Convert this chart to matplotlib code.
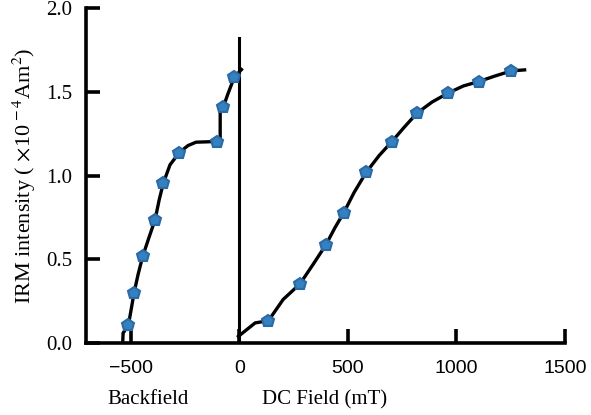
import matplotlib
matplotlib.use("Agg")
import matplotlib.pyplot as plt
import matplotlib.transforms as mtransforms

# ── Daten ─────────────────────────────────────────────────────────────────────
# Backfield-Ast: Messpunkte
back_x = [-511, -485, -445, -388, -350, -276, -102, -73, -23]
back_y = [0.105, 0.298, 0.517, 0.736, 0.955, 1.138, 1.204, 1.413, 1.588]

# Backfield-Ast: Verlauf der Kurve
back_curve_x = [-537, -535, -511, -498, -485, -466, -445, -416, -388, -369,
                -350, -319, -276, -236, -199, -102, -88, -88, -73, -52, -23, 10]
back_curve_y = [0.0, 0.06, 0.105, 0.20, 0.298, 0.41, 0.517, 0.63, 0.736, 0.855,
                0.955, 1.065, 1.138, 1.18, 1.20, 1.204, 1.204, 1.39, 1.413, 1.49,
                1.588, 1.634]

# DC-Feld-Ast: Messpunkte
dc_x = [134, 280, 399, 480, 584, 703, 818, 961, 1102, 1253]
dc_y = [0.133, 0.354, 0.587, 0.776, 1.019, 1.204, 1.373, 1.493, 1.562, 1.626]

# DC-Feld-Ast: Verlauf der Kurve
dc_curve_x = [-4, 73, 134, 202, 280, 340, 399, 441, 480, 529, 584, 644, 703,
              760, 818, 888, 961, 1032, 1102, 1179, 1253, 1314]
dc_curve_y = [0.04, 0.12, 0.133, 0.26, 0.354, 0.47, 0.587, 0.69, 0.776, 0.90,
              1.019, 1.12, 1.204, 1.29, 1.373, 1.44, 1.493, 1.536, 1.562, 1.596,
              1.626, 1.632]

x_ticks = [-500, 0, 500, 1000, 1500]
x_ticklabels = ["\u2212500", "0", "500", "1000", "1500"]
y_ticks = [0.0, 0.5, 1.0, 1.5, 2.0]
y_ticklabels = ["0.0", "0.5", "1.0", "1.5", "2.0"]
zero_line_top = 1.82

# ── Plot ──────────────────────────────────────────────────────────────────────
plt.rcParams["mathtext.fontset"] = "stix"
serif = ["Liberation Serif", "DejaVu Serif"]
sans = ["Liberation Sans", "DejaVu Sans"]

fig = plt.figure(figsize=(5.91, 4.15), dpi=100)
ax = fig.add_axes([0.1455, 0.1735, 0.8105, 0.8065])

ax.plot(back_curve_x, back_curve_y, color="black", lw=2.4, zorder=2)
ax.plot(dc_curve_x, dc_curve_y, color="black", lw=2.4, zorder=2)
ax.plot([0, 0], [0, zero_line_top], color="black", lw=2.2, zorder=2)

marker_kw = dict(ls="none", marker="p", ms=9, mfc="#3580bf", mec="#2a6aa6",
                 mew=1.5, zorder=3)
ax.plot(back_x, back_y, **marker_kw)
ax.plot(dc_x, dc_y, **marker_kw)

ax.set_xlim(-706, 1500)
ax.set_ylim(0, 2.0)
for side in ("top", "right"):
    ax.spines[side].set_visible(False)
for side in ("left", "bottom"):
    ax.spines[side].set_linewidth(2.6)

ax.set_xticks(x_ticks)
ax.set_xticklabels(x_ticklabels, family=sans, fontsize=14)
ax.set_yticks(y_ticks)
ax.set_yticklabels(y_ticklabels, family=serif, fontsize=15)
ax.tick_params(axis="both", direction="in", length=10, width=2.6)
ax.tick_params(axis="x", pad=12)
ax.tick_params(axis="y", pad=10)

ax.set_ylabel(r"IRM intensity ( $\times$10$^{\,-4}$Am$^{2}$)",
              family=serif, fontsize=16, labelpad=6)

trans = mtransforms.blended_transform_factory(ax.transData, ax.transAxes)
ax.text(-420, -0.17, "Backfield", transform=trans, ha="center", va="center",
        family=serif, fontsize=15)
ax.text(391, -0.17, "DC Field (mT)", transform=trans, ha="center", va="center",
        family=serif, fontsize=15)

fig.savefig("out.png", dpi=100)
